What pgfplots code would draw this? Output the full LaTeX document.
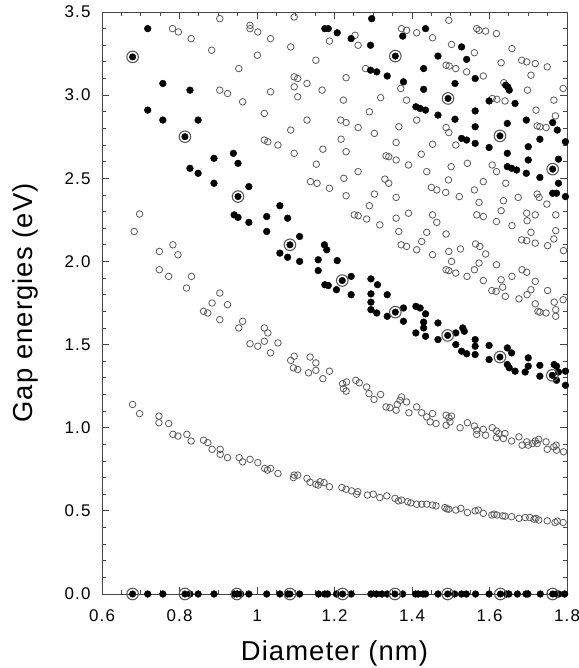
\documentclass[border=0pt]{standalone}
\usepackage{fontspec}
\setmainfont{Liberation Sans}
\newfontfamily\tickfont{Liberation Sans}[LetterSpace=7]
\newfontfamily\lblfont{Liberation Sans}[LetterSpace=4]
\usepackage{pgfplots}
\pgfplotsset{compat=1.18}
\definecolor{circ}{RGB}{90,90,90}
\definecolor{framec}{RGB}{70,70,70}
\begin{document}
\begin{tikzpicture}
\begin{axis}[
 scale only axis, width=465bp, height=582bp,
 xmin=0.6, xmax=1.8, ymin=0, ymax=3.5,
 clip=false,
 axis line style={framec, line width=0.9bp},
 tick style={framec, line width=0.8bp},
 tick align=inside,
 major tick length=7bp, minor tick length=4bp,
 xtick={0.6,0.8,1.0,1.2,1.4,1.6,1.8},
 xticklabels={0.6,0.8,1,1.2,1.4,1.6,1.8},
 ytick={0,0.5,1.0,1.5,2.0,2.5,3.0,3.5},
 yticklabels={0.0,0.5,1.0,1.5,2.0,2.5,3.0,3.5},
 minor x tick num=3, minor y tick num=4,
 ticklabel style={font=\tickfont\fontsize{17}{20}\selectfont},
 xticklabel style={yshift=-12bp},
 yticklabel style={xshift=-8bp},
 xlabel={Diameter (nm)}, ylabel={Gap energies (eV)},
 label style={font=\lblfont\fontsize{27.5}{30}\selectfont},
 xlabel style={at={([yshift=-66bp]axis description cs:0.5,0)}, anchor=base},
 ylabel style={at={([xshift=-69bp]axis description cs:0,0.5)}, anchor=base},
]
% semiconducting tubes (open circles)
\addplot[only marks, mark=o, mark size=3.3pt, circ, mark options={line width=0.8bp}] coordinates {
(0.679,1.14)(0.697,1.085)(0.747,1.07)(0.747,1.03)(0.772,1.025)(0.783,0.96)(0.796,0.95)(0.819,0.96)(0.830,0.92)
(0.862,0.925)(0.873,0.91)(0.884,0.87)(0.905,0.87)(0.905,0.84)(0.924,0.82)(0.954,0.82)(0.963,0.795)(0.982,0.81)
(1.002,0.79)(1.020,0.755)(1.027,0.745)(1.035,0.755)(1.054,0.725)(1.096,0.715)(1.105,0.715)(1.094,0.70)(1.129,0.695)
(1.137,0.672)(1.152,0.66)(1.158,0.655)(1.163,0.675)(1.173,0.67)(1.187,0.645)(1.219,0.64)(1.230,0.63)(1.244,0.62)
(1.260,0.615)(1.257,0.60)(1.285,0.595)(1.300,0.60)(1.317,0.58)(1.335,0.59)(1.356,0.575)(1.365,0.56)(1.373,0.565)
(1.389,0.555)(1.397,0.548)(1.412,0.54)(1.425,0.54)(1.438,0.54)(1.453,0.535)(1.462,0.53)(1.485,0.52)(1.495,0.51)(1.490,0.512)
(1.513,0.505)(1.526,0.515)(1.543,0.49)(1.563,0.50)(1.571,0.505)(1.584,0.485)(1.606,0.475)(1.619,0.475)(1.612,0.48)
(1.634,0.47)(1.640,0.468)(1.657,0.465)(1.676,0.455)(1.692,0.46)(1.704,0.46)(1.715,0.45)(1.720,0.455)(1.727,0.445)(1.749,0.44)
(1.769,0.43)(1.775,0.438)(1.790,0.43)
(0.697,2.285)(0.683,2.18)(0.748,2.06)(0.783,2.10)(0.796,2.04)(0.748,1.95)(0.772,1.91)(0.831,1.91)(0.818,1.84)
(0.904,1.81)(0.884,1.75)(0.924,1.74)(0.862,1.70)(0.873,1.69)(0.904,1.65)(0.963,1.64)(0.953,1.60)(1.019,1.60)
(1.028,1.57)(1.019,1.52)(0.982,1.505)(1.002,1.49)(1.054,1.51)(1.035,1.45)(1.096,1.43)(1.087,1.405)(1.094,1.36)
(1.105,1.35)(1.137,1.425)(1.133,1.33)(1.152,1.39)(1.152,1.345)(1.170,1.295)(1.187,1.34)(1.223,1.235)(1.230,1.22)
(1.221,1.265)(1.231,1.275)(1.255,1.285)(1.264,1.27)(1.283,1.245)(1.289,1.205)(1.302,1.17)(1.319,1.20)(1.333,1.125)
(1.343,1.12)(1.359,1.105)(1.362,1.14)(1.369,1.165)(1.373,1.185)(1.386,1.155)(1.392,1.09)(1.412,1.125)(1.425,1.09)
(1.438,1.065)(1.453,1.085)(1.447,1.035)(1.462,1.025)(1.488,1.075)(1.495,1.06)(1.502,1.07)(1.498,1.035)(1.488,1.015)
(1.524,1.00)(1.543,1.03)(1.561,1.01)(1.567,0.985)(1.567,0.96)(1.584,0.99)(1.590,0.955)(1.607,1.00)(1.618,0.98)
(1.624,0.965)(1.618,0.94)(1.640,0.965)(1.636,0.935)(1.657,0.92)(1.676,0.945)(1.684,0.895)(1.696,0.915)(1.700,0.895)
(1.711,0.905)(1.718,0.92)(1.727,0.93)(1.723,0.905)(1.746,0.915)(1.749,0.87)(1.766,0.885)(1.772,0.895)(1.773,0.865)(1.791,0.855)
(0.782,3.40)(0.797,3.38)(0.830,3.34)(0.883,3.27)(0.904,3.46)(0.982,3.42)(0.982,3.40)(1.002,3.38)(1.035,3.34)
(1.096,3.47)(1.087,3.29)(1.001,3.24)(0.953,3.16)(1.152,3.21)(0.904,3.03)(0.924,3.01)(0.963,2.96)(1.035,3.02)
(1.096,3.11)(1.105,3.10)(1.096,3.05)(1.129,3.07)(1.105,2.99)(1.168,3.03)(1.019,2.89)(1.129,2.85)(1.087,2.79)
(1.019,2.73)(1.028,2.72)(1.054,2.70)(1.096,2.65)(1.153,2.585)(1.138,2.48)(1.155,2.47)
(1.187,3.325)(1.253,3.36)(1.261,3.30)(1.373,3.40)(1.386,3.39)(1.412,3.375)(1.453,3.345)(1.495,3.45)(1.502,3.305)
(1.561,3.255)(1.567,3.40)(1.573,3.39)(1.590,3.385)(1.618,3.37)(1.658,3.28)(1.630,3.195)(1.683,3.21)(1.696,3.20)
(1.718,3.19)(1.749,3.17)(1.707,3.12)(1.584,3.115)(1.541,3.14)(1.488,3.18)(1.496,3.175)(1.513,3.16)(1.280,3.16)
(1.230,3.105)(1.223,2.97)(1.319,2.985)(1.371,3.04)(1.386,2.97)(1.290,2.90)(1.412,2.85)(1.216,2.85)(1.230,2.835)
(1.261,2.805)(1.303,2.77)(1.366,2.81)(1.488,2.805)(1.495,2.775)(1.513,2.70)(1.607,2.98)(1.619,2.975)(1.640,2.965)
(1.698,3.03)(1.637,3.075)(1.720,2.91)(1.766,2.97)(1.790,3.04)(1.770,2.875)(1.723,2.815)(1.730,2.81)(1.746,2.805)
(1.217,2.735)(1.359,2.715)(1.453,2.705)(1.170,2.675)(1.230,2.66)(1.333,2.635)(1.340,2.63)(1.359,2.61)(1.424,2.645)
(1.391,2.58)(1.543,2.59)(1.501,2.57)(1.607,2.58)(1.618,2.54)(1.438,2.54)(1.261,2.54)(1.224,2.50)(1.330,2.495)
(1.340,2.47)(1.187,2.44)(1.494,2.49)(1.584,2.48)(1.642,2.47)(1.450,2.445)(1.464,2.43)(1.487,2.415)(1.522,2.39)
(1.561,2.43)(1.674,2.385)(1.723,2.405)(1.728,2.385)(1.748,2.345)(1.636,2.365)(1.573,2.355)(1.230,2.395)(1.303,2.405)
(1.359,2.385)(1.290,2.335)(1.391,2.29)(1.251,2.28)(1.261,2.275)(1.359,2.26)(1.453,2.28)(1.567,2.28)(1.584,2.27)
(1.630,2.305)(1.696,2.29)(1.718,2.28)(1.771,2.28)(1.283,2.255)(1.317,2.22)(1.464,2.235)(1.366,2.18)(1.438,2.175)
(1.488,2.165)(1.618,2.24)(1.658,2.215)(1.697,2.245)(1.707,2.175)(1.771,2.185)(1.683,2.13)(1.696,2.125)(1.718,2.11)
(1.766,2.135)(1.750,2.095)(1.791,2.065)(1.372,2.10)(1.386,2.09)(1.412,2.07)(1.425,2.12)(1.453,2.04)(1.495,2.06)
(1.525,2.075)(1.564,2.105)(1.575,2.09)(1.590,2.045)(1.502,2.00)(1.573,1.99)(1.618,1.98)(1.488,1.95)(1.495,1.945)
(1.513,1.93)(1.542,1.91)(1.561,1.95)(1.584,1.885)(1.630,1.89)(1.658,1.91)(1.684,1.95)(1.696,1.935)(1.718,1.88)
(1.606,1.825)(1.617,1.82)(1.634,1.845)(1.641,1.79)(1.676,1.775)(1.697,1.80)(1.707,1.83)(1.750,1.825)(1.718,1.745)
(1.725,1.70)(1.730,1.695)(1.746,1.69)(1.767,1.755)(1.771,1.71)(1.771,1.67)(1.790,1.77)
};
% metallic tubes (filled circles)
\addplot[only marks, mark=*, mark size=3.4pt, black] coordinates {
(0.718,3.40)(0.757,3.07)(0.827,3.03)(0.718,2.91)(0.757,2.85)(0.848,2.85)(0.889,2.62)(0.939,2.65)(0.951,2.59)
(0.827,2.56)(0.848,2.53)(0.889,2.47)(0.979,2.45)(1.059,2.335)(0.941,2.28)(0.951,2.265)(0.979,2.235)(1.025,2.27)
(1.079,2.26)(1.025,2.18)(1.110,2.15)(1.059,2.05)(1.079,2.025)(1.110,2.00)(1.158,2.01)(1.158,1.945)(1.174,2.10)
(1.180,2.07)(1.207,2.005)(1.175,1.86)(1.184,1.855)(1.205,1.83)(1.243,1.91)(1.243,1.80)(1.294,1.895)(1.311,1.86)
(1.294,1.805)(1.336,1.80)(1.294,1.755)(1.294,1.71)(1.309,1.69)(1.336,1.67)(1.378,1.72)(1.378,1.64)(1.410,1.73)
(1.421,1.72)(1.435,1.685)(1.430,1.635)(1.430,1.60)(1.410,1.57)(1.435,1.55)(1.467,1.63)(1.467,1.53)(1.513,1.57)
(1.531,1.60)(1.535,1.58)(1.513,1.50)(1.528,1.46)(1.541,1.445)(1.563,1.53)(1.563,1.49)(1.563,1.44)(1.599,1.495)
(1.599,1.41)(1.646,1.48)(1.657,1.45)(1.646,1.38)(1.651,1.36)(1.666,1.34)(1.700,1.42)(1.700,1.37)(1.692,1.335)
(1.730,1.375)(1.730,1.31)(1.767,1.38)(1.773,1.37)(1.778,1.335)(1.773,1.285)(1.796,1.34)(1.796,1.255)
(1.296,3.46)(1.175,3.40)(1.184,3.40)(1.207,3.375)(1.243,3.34)(1.376,3.355)(1.435,3.40)(1.293,3.30)(1.528,3.29)
(1.467,3.235)(1.541,3.215)(1.293,3.15)(1.309,3.14)(1.336,3.115)(1.430,3.16)(1.378,3.08)(1.563,3.10)(1.511,3.07)
(1.430,3.035)(1.642,3.06)(1.647,3.05)(1.651,3.03)(1.599,2.965)(1.666,2.95)(1.410,2.93)(1.421,2.92)(1.435,2.91)
(1.467,2.88)(1.563,2.905)(1.511,2.855)(1.695,2.85)(1.646,2.83)(1.763,2.835)(1.563,2.81)(1.775,2.79)(1.528,2.74)
(1.541,2.73)(1.563,2.71)(1.599,2.685)(1.700,2.69)(1.730,2.735)(1.796,2.72)(1.646,2.65)(1.700,2.61)(1.778,2.615)
(1.646,2.57)(1.657,2.56)(1.670,2.55)(1.695,2.53)(1.730,2.505)(1.778,2.47)(1.763,2.41)(1.773,2.41)(1.796,2.39)
(0.718,0)(0.757,0)(0.827,0)(0.848,0)(0.889,0)(0.941,0)(0.958,0)(0.979,0)(1.025,0)(1.059,0)(1.079,0)(1.110,0)
(1.159,0)(1.175,0)(1.182,0)(1.205,0)(1.243,0)(1.294,0)(1.308,0)(1.322,0)(1.336,0)(1.376,0)(1.409,0)(1.416,0)(1.429,0)
(1.435,0)(1.467,0)(1.510,0)(1.528,0)(1.540,0)(1.564,0)(1.599,0)(1.644,0)(1.650,0)(1.672,0)(1.694,0)(1.699,0)
(1.731,0)(1.773,0)(1.779,0)(1.794,0)
};
% armchair tubes (filled circle with ring)
\addplot[only marks, mark=o, mark size=5.8pt, circ, mark options={line width=1.1bp}] coordinates {
(0.679,3.23)(0.814,2.75)(0.951,2.39)(1.085,2.10)(1.220,1.885)(1.357,1.695)(1.492,1.555)(1.627,1.425)(1.762,1.315)
(1.357,3.235)(1.493,2.98)(1.627,2.755)(1.763,2.555)
(0.679,0)(0.814,0)(0.948,0)(1.085,0)(1.221,0)(1.356,0)(1.492,0)(1.628,0)(1.763,0)
};
\addplot[only marks, mark=*, mark size=3.3pt, black] coordinates {
(0.679,3.23)(0.814,2.75)(0.951,2.39)(1.085,2.10)(1.220,1.885)(1.357,1.695)(1.492,1.555)(1.627,1.425)(1.762,1.315)
(1.357,3.235)(1.493,2.98)(1.627,2.755)(1.763,2.555)
(0.679,0)(0.814,0)(0.948,0)(1.085,0)(1.221,0)(1.356,0)(1.492,0)(1.628,0)(1.763,0)
};
\end{axis}
\pgfresetboundingbox
\path[use as bounding box] ([shift={(-102bp,-74bp)}]current axis.south west) rectangle ([shift={(12bp,12bp)}]current axis.north east);
\end{tikzpicture}
\end{document}
